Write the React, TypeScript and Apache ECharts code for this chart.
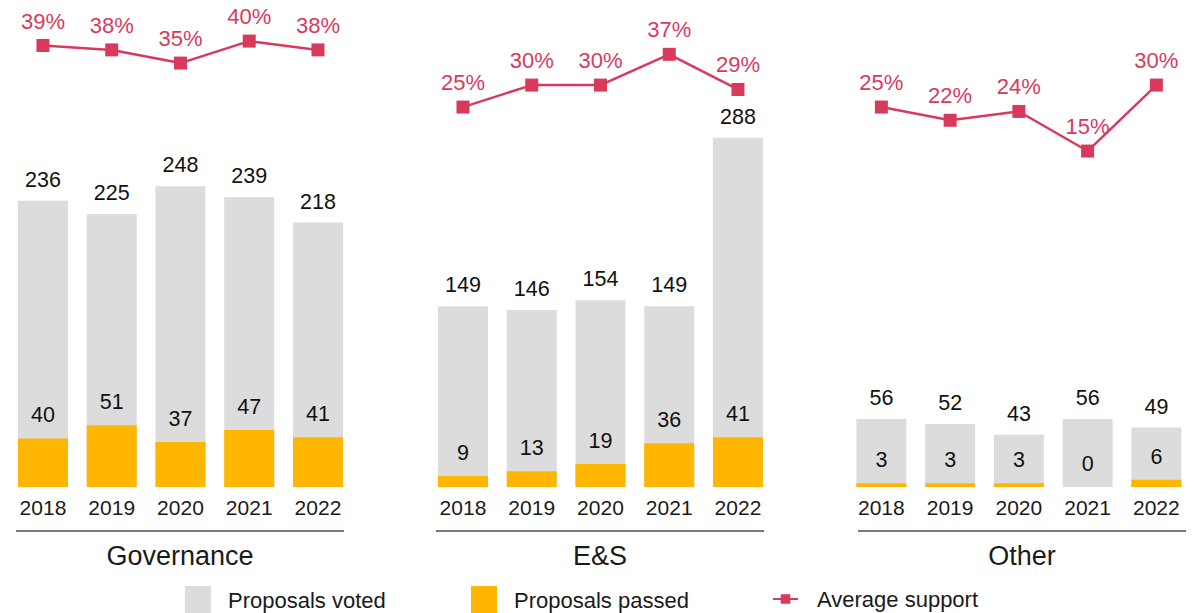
import React, { useEffect, useRef } from "react";
import * as echarts from "echarts";

const years = ["2018", "2019", "2020", "2021", "2022"];
const panelNames = ["Governance", "E&S", "Other"];

const votedGovernance = [236, 225, 248, 239, 218];
const passedGovernance = [40, 51, 37, 47, 41];
const supportGovernance = [39, 38, 35, 40, 38];

const votedES = [149, 146, 154, 149, 288];
const passedES = [9, 13, 19, 36, 41];
const supportES = [25, 30, 30, 37, 29];

const votedOther = [56, 52, 43, 56, 49];
const passedOther = [3, 3, 3, 0, 6];
const supportOther = [25, 22, 24, 15, 30];

const voted = [votedGovernance, votedES, votedOther];
const passed = [passedGovernance, passedES, passedOther];
const support = [supportGovernance, supportES, supportOther];

const FONT = "'Liberation Sans', Arial, Helvetica, sans-serif";
const GREY = "#dcdcdc";
const ORANGE = "#ffb600";
const ROSE = "#d93a5c";

export default function App() {
  const ref = useRef<HTMLDivElement>(null);
  useEffect(() => {
    if (!ref.current) return;
    const chart = echarts.init(ref.current, null, { renderer: "svg" });
    const gridLefts = [8.6, 428.6, 847];
    const gridWidth = 343.75;
    const lineCenters = [180, 600, 1022];
    const lineHalf = 164;

    const grids = gridLefts.map((l) => ({ left: l, width: gridWidth, top: 20, bottom: 126 }));
    const xAxes = gridLefts.map((_, i) => ({
      type: "category",
      gridIndex: i,
      data: years,
      axisLine: { show: false },
      axisTick: { show: false },
      axisLabel: { color: "#1a1a1a", fontSize: 21, fontFamily: FONT, margin: 10 },
    }));
    const yAxes: any[] = [];
    gridLefts.forEach((_, i) => {
      yAxes.push({ type: "value", gridIndex: i, min: 0, max: 385, show: false, splitLine: { show: false } });
      yAxes.push({ type: "value", gridIndex: i, min: -61.4, max: 44.8, show: false, splitLine: { show: false } });
    });
    const series: any[] = [];
    gridLefts.forEach((_, i) => {
      series.push({
        name: "Proposals voted",
        type: "bar",
        xAxisIndex: i,
        yAxisIndex: i * 2,
        data: voted[i],
        barWidth: 50,
        barGap: "-100%",
        itemStyle: { color: GREY },
        label: { show: true, position: "top", distance: 10, color: "#111", fontSize: 21.5, fontFamily: FONT },
      });
      series.push({
        name: "Proposals passed",
        type: "bar",
        xAxisIndex: i,
        yAxisIndex: i * 2,
        data: passed[i],
        barWidth: 50,
        barGap: "-100%",
        itemStyle: { color: ORANGE },
        label: { show: true, position: "top", distance: 12, color: "#111", fontSize: 21.5, fontFamily: FONT },
      });
      series.push({
        name: "Average support",
        type: "line",
        xAxisIndex: i,
        yAxisIndex: i * 2 + 1,
        data: support[i],
        symbol: "rect",
        symbolSize: 13,
        lineStyle: { color: ROSE, width: 2.5 },
        itemStyle: { color: ROSE },
        label: {
          show: true,
          position: "top",
          distance: 7,
          color: ROSE,
          fontSize: 22,
          fontFamily: FONT,
          formatter: "{c}%",
        },
      });
    });

    const graphic: any[] = [];
    lineCenters.forEach((c, i) => {
      graphic.push({
        type: "line",
        shape: { x1: c - lineHalf, y1: 531, x2: c + lineHalf, y2: 531 },
        style: { stroke: "#7a7a7a", lineWidth: 2 },
      });
      graphic.push({
        type: "text",
        x: c,
        y: 556,
        style: {
          text: panelNames[i],
          fill: "#1a1a1a",
          fontSize: 27,
          fontFamily: FONT,
          textAlign: "center",
          textVerticalAlign: "middle",
        },
      });
    });

    const legendText = { fontSize: 22, fontFamily: FONT, color: "#1a1a1a", padding: [0, 0, 0, 12] };
    chart.setOption({
      animation: false,
      grid: grids,
      xAxis: xAxes,
      yAxis: yAxes,
      series,
      graphic,
      legend: [
        {
          data: ["Proposals voted"],
          left: 185,
          top: 586,
          itemWidth: 26,
          itemHeight: 28,
          icon: "rect",
          padding: 0,
          textStyle: legendText,
        },
        {
          data: ["Proposals passed"],
          left: 471,
          top: 586,
          itemWidth: 26,
          itemHeight: 28,
          icon: "rect",
          padding: 0,
          textStyle: legendText,
        },
        {
          data: ["Average support"],
          left: 772,
          top: 588,
          itemWidth: 25,
          itemHeight: 12,
          padding: 0,
          textStyle: { ...legendText, padding: [0, 0, 0, 14] },
        },
      ],
    });
    return () => chart.dispose();
  }, []);
  return <div ref={ref} style={{ width: 1194, height: 613, position: "absolute", left: 0, top: 0 }} />;
}
